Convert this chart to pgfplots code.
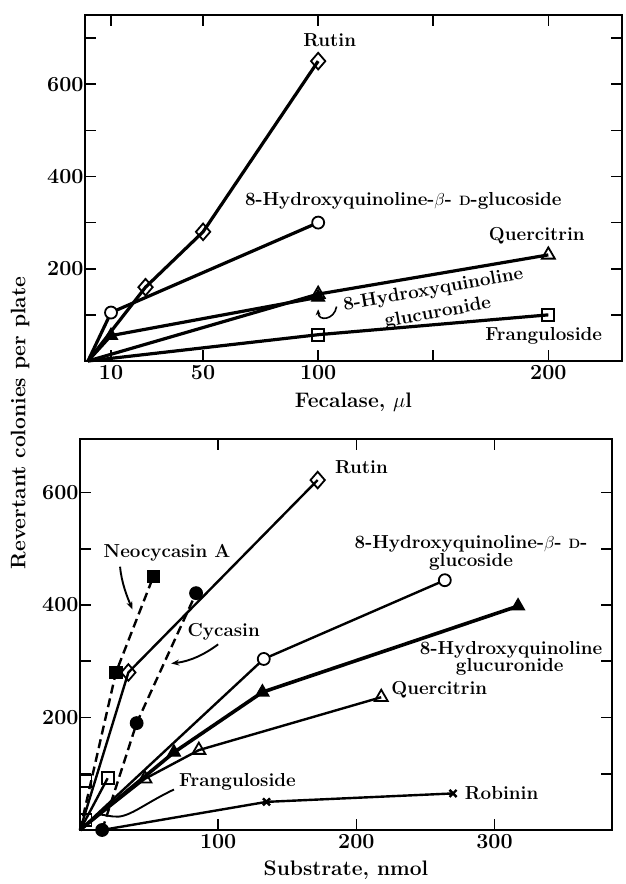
\documentclass[border=0pt]{standalone}
\usepackage{fontspec}
\usepackage{pgfplots}
\pgfplotsset{compat=1.18}
\usetikzlibrary{arrows.meta}

\newcommand{\lbl}{\fontsize{18.8}{19}\selectfont\bfseries}
\newcommand{\smD}{{\fontsize{13.5}{13.5}\selectfont D}}

\pgfplotsset{
  myax/.style={
    scale only axis, clip=false,
    axis line style={line width=1.8pt},
    every tick/.style={line width=1.6pt, black},
    major tick length=11pt,
    tick align=inside,
    /pgf/number format/assume math mode=true,
    tick label style={font=\fontsize{21.5}{21.5}\selectfont\bfseries},
    xticklabel style={yshift=-1pt},
    yticklabel style={xshift=2pt},
    label style={font=\fontsize{21}{22}\selectfont\bfseries},
  },
  openmk/.style={mark options={solid, fill=white, line width=1.8pt}},
  dmk/.style={mark options={solid, fill=white, line width=1.8pt, xscale=1.15}},
  fillmk/.style={mark options={solid, fill=black, line width=1.2pt}},
}

\begin{document}
\begin{tikzpicture}[x=1pt,y=1pt]
\path[use as bounding box] (0pt,0pt) rectangle (626pt,884pt);

% ---------------- top panel ----------------
\begin{axis}[myax,
  at={(85pt,523pt)}, anchor=south west, width=537pt, height=346pt,
  xmin=-1.3, xmax=232, ymin=0, ymax=750,
  xtick={10,50,100,150,200}, xticklabels={10,50,100,,200},
  ytick={100,200,300,400,500,600,700}, yticklabels={,200,,400,,600,},
  xlabel={Fecalase, $\mu$l},
  xlabel style={at={(axis description cs:0.5,0)}, anchor=center, yshift=-41pt},
]
\addplot[line width=3.2pt, mark=square, mark size=6pt, openmk, mark indices={2,3}]
  coordinates {(0,0) (100,57) (200,100)};
\addplot[line width=3.2pt, mark=triangle, mark size=7.5pt, openmk, mark indices={2,3}]
  coordinates {(0,0) (100,145) (200,230)};
\addplot[line width=3.2pt, mark=triangle*, mark size=7.5pt, fillmk, mark indices={2,3}]
  coordinates {(0,0) (10,55) (100,138)};
\addplot[line width=3.2pt, mark=*, mark size=6pt, openmk, mark indices={2,3}]
  coordinates {(0,0) (10,105) (100,300)};
\addplot[line width=3.2pt, mark=diamond, mark size=8.3pt, dmk, mark indices={2,3,4}]
  coordinates {(0,0) (25,160) (50,280) (100,650)};

\node[font=\lbl] at (axis cs:105,696) {Rutin};
\node[font=\lbl] at (axis cs:137,348) {8-Hydroxyquinoline-$\beta$- \smD-glucoside};
\node[font=\lbl] at (axis cs:195,272) {Quercitrin};
\node[font=\lbl, rotate=10] at (axis cs:150,153) {8-Hydroxyquinoline};
\node[font=\lbl, rotate=10] at (axis cs:152,104) {glucuronide};
\node[font=\lbl] at (axis cs:198,54) {Franguloside};
\draw[line width=1.6pt, -{Stealth[length=6pt,width=5pt]}]
  (axis cs:108,118) .. controls (axis cs:107,88) and (axis cs:100,86) .. (axis cs:100,112);
\end{axis}

% ---------------- bottom panel ----------------
\begin{axis}[myax,
  at={(80pt,54pt)}, anchor=south west, width=532pt, height=391pt,
  xmin=0, xmax=385, ymin=0, ymax=695,
  xtick={100,200,300}, xticklabels={100,200,300},
  ytick={100,200,300,400,500,600}, yticklabels={,200,,400,,600},
  xlabel={Substrate, nmol},
  xlabel style={at={(axis description cs:0.5,0)}, anchor=center, yshift=-40pt},
]
% Robinin
\addplot[line width=2.4pt, mark=x, mark size=5pt, mark options={line width=2.4pt}, mark indices={2,3}]
  coordinates {(16,0) (135,50) (270,65)};
% Franguloside
\addplot[line width=2.4pt, mark=square, mark size=6pt, openmk, mark indices={2,3}]
  coordinates {(0,0) (4,18) (20,92)};
\addplot[only marks, mark=square, mark size=6pt, openmk]
  coordinates {(4,87)};
% Quercitrin
\addplot[line width=2.4pt, mark=triangle, mark size=7.5pt, openmk, mark indices={2,3,4}]
  coordinates {(0,0) (47,91) (86,142) (218,236)};
% 8-Hydroxyquinoline glucuronide
\addplot[line width=3.6pt, mark=triangle*, mark size=7.5pt, fillmk, mark indices={2,3,4}]
  coordinates {(0,0) (68,138) (132,245) (317,398)};
% 8-Hydroxyquinoline glucoside
\addplot[line width=2.4pt, mark=*, mark size=6pt, openmk, mark indices={2,3}]
  coordinates {(0,0) (133,304) (264,444)};
% Rutin
\addplot[line width=2.4pt, mark=diamond, mark size=8.3pt, dmk, mark indices={2,3}]
  coordinates {(0,0) (35,280) (172,622)};
% Neocycasin A
\addplot[line width=2.4pt, dash pattern=on 9pt off 5pt, mark=square*, mark size=6pt, fillmk, mark indices={2,3}]
  coordinates {(0,0) (26,280) (53,450)};
% Cycasin
\addplot[line width=2.4pt, dash pattern=on 9pt off 5pt, mark=*, mark size=6.3pt, fillmk]
  coordinates {(16,0) (41,190) (84,421)};

\node[font=\lbl, anchor=west] at (axis cs:182,645) {Rutin};
\node[font=\lbl] at (axis cs:283,508) {8-Hydroxyquinoline-$\beta$- \smD-};
\node[font=\lbl] at (axis cs:283,477) {glucoside};
\node[font=\lbl] at (axis cs:312,321) {8-Hydroxyquinoline};
\node[font=\lbl] at (axis cs:311,290) {glucuronide};
\node[font=\lbl] at (axis cs:260,249) {Quercitrin};
\node[font=\lbl, anchor=west] at (axis cs:276,66) {Robinin};
\node[font=\lbl] at (axis cs:63,492) {Neocycasin A};
\node[font=\lbl] at (axis cs:104,352) {Cycasin};
\node[font=\lbl] at (axis cs:114,85) {Franguloside};

\draw[line width=1.9pt, -{Stealth[length=8pt,width=6pt]}]
  (axis cs:29,468) .. controls (axis cs:30,440) and (axis cs:34,415) .. (axis cs:38,392);
\draw[line width=1.9pt, -{Stealth[length=8pt,width=6pt]}]
  (axis cs:100,330) .. controls (axis cs:90,312) and (axis cs:80,300) .. (axis cs:66,296);
\draw[line width=1.9pt]
  (axis cs:68,72) .. controls (axis cs:45,45) and (axis cs:35,20) .. (axis cs:24,24)
  .. controls (axis cs:18,26) and (axis cs:15,28) .. (axis cs:12,28);
\end{axis}

\node[rotate=90, font=\fontsize{21}{22}\selectfont\bfseries] at (20pt,461pt) {Revertant colonies per plate};
\end{tikzpicture}
\end{document}
